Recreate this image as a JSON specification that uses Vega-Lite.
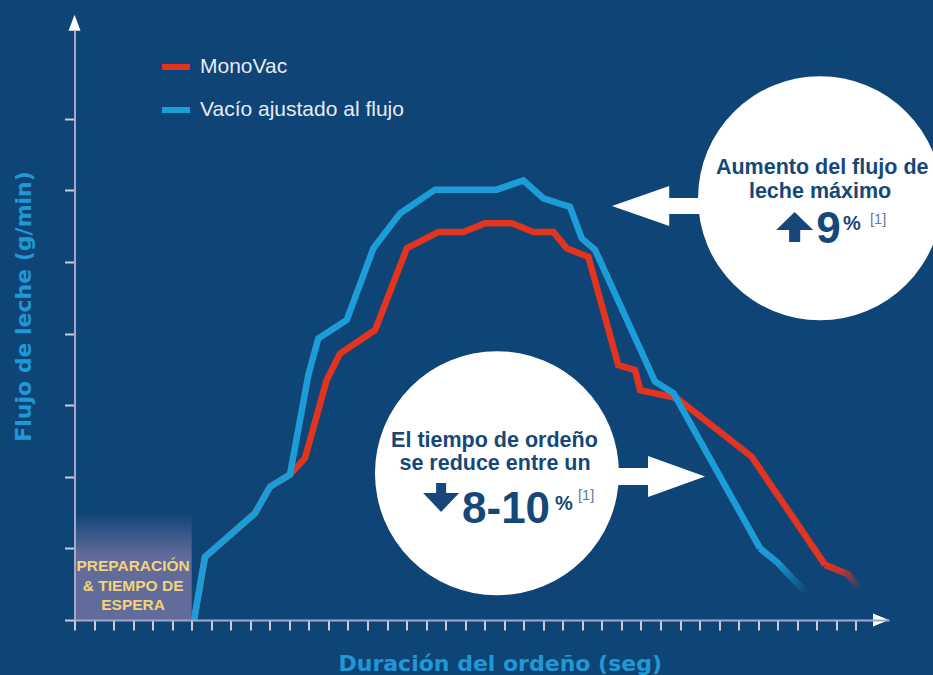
{
  "$schema": "https://vega.github.io/schema/vega-lite/v6.json",
  "width": 814.5,
  "height": 590,
  "autosize": {"type": "none"},
  "padding": {"left": 74.5, "top": 30, "right": 44, "bottom": 55},
  "background": "#0e4576",
  "config": {"view": {"stroke": null}, "font": "Liberation Sans"},
  "datasets": {
    "flujo": [
      {"serie": "MonoVac", "tiempo": 6.12, "flujo": 0, "tramo": "main"},
      {"serie": "MonoVac", "tiempo": 6.68, "flujo": 0.88, "tramo": "main"},
      {"serie": "MonoVac", "tiempo": 9.24, "flujo": 1.49, "tramo": "main"},
      {"serie": "MonoVac", "tiempo": 10.01, "flujo": 1.86, "tramo": "main"},
      {"serie": "MonoVac", "tiempo": 11.03, "flujo": 2.03, "tramo": "main"},
      {"serie": "MonoVac", "tiempo": 11.8, "flujo": 2.26, "tramo": "main"},
      {"serie": "MonoVac", "tiempo": 12.91, "flujo": 3.35, "tramo": "main"},
      {"serie": "MonoVac", "tiempo": 13.59, "flujo": 3.72, "tramo": "main"},
      {"serie": "MonoVac", "tiempo": 15.39, "flujo": 4.05, "tramo": "main"},
      {"serie": "MonoVac", "tiempo": 17.01, "flujo": 5.19, "tramo": "main"},
      {"serie": "MonoVac", "tiempo": 18.63, "flujo": 5.42, "tramo": "main"},
      {"serie": "MonoVac", "tiempo": 19.91, "flujo": 5.42, "tramo": "main"},
      {"serie": "MonoVac", "tiempo": 21.02, "flujo": 5.54, "tramo": "main"},
      {"serie": "MonoVac", "tiempo": 22.39, "flujo": 5.54, "tramo": "main"},
      {"serie": "MonoVac", "tiempo": 23.49, "flujo": 5.42, "tramo": "main"},
      {"serie": "MonoVac", "tiempo": 24.52, "flujo": 5.42, "tramo": "main"},
      {"serie": "MonoVac", "tiempo": 25.2, "flujo": 5.19, "tramo": "main"},
      {"serie": "MonoVac", "tiempo": 26.31, "flujo": 5.07, "tramo": "main"},
      {"serie": "MonoVac", "tiempo": 27.84, "flujo": 3.56, "tramo": "main"},
      {"serie": "MonoVac", "tiempo": 28.7, "flujo": 3.49, "tramo": "main"},
      {"serie": "MonoVac", "tiempo": 28.96, "flujo": 3.21, "tramo": "main"},
      {"serie": "MonoVac", "tiempo": 30.83, "flujo": 3.1, "tramo": "main"},
      {"serie": "MonoVac", "tiempo": 34.67, "flujo": 2.28, "tramo": "main"},
      {"serie": "MonoVac", "tiempo": 38.43, "flujo": 0.77, "tramo": "both"},
      {"serie": "MonoVac", "tiempo": 39.6, "flujo": 0.64, "tramo": "tail"},
      {"serie": "MonoVac", "tiempo": 40.2, "flujo": 0.43, "tramo": "tail"},
      {"serie": "Vacío ajustado al flujo", "tiempo": 6.12, "flujo": 0, "tramo": "main"},
      {"serie": "Vacío ajustado al flujo", "tiempo": 6.68, "flujo": 0.88, "tramo": "main"},
      {"serie": "Vacío ajustado al flujo", "tiempo": 9.24, "flujo": 1.49, "tramo": "main"},
      {"serie": "Vacío ajustado al flujo", "tiempo": 10.01, "flujo": 1.86, "tramo": "main"},
      {"serie": "Vacío ajustado al flujo", "tiempo": 11.03, "flujo": 2.03, "tramo": "main"},
      {"serie": "Vacío ajustado al flujo", "tiempo": 11.97, "flujo": 3.42, "tramo": "main"},
      {"serie": "Vacío ajustado al flujo", "tiempo": 12.48, "flujo": 3.93, "tramo": "main"},
      {"serie": "Vacío ajustado al flujo", "tiempo": 13.94, "flujo": 4.19, "tramo": "main"},
      {"serie": "Vacío ajustado al flujo", "tiempo": 15.3, "flujo": 5.19, "tramo": "main"},
      {"serie": "Vacío ajustado al flujo", "tiempo": 16.67, "flujo": 5.68, "tramo": "main"},
      {"serie": "Vacío ajustado al flujo", "tiempo": 18.46, "flujo": 6.01, "tramo": "main"},
      {"serie": "Vacío ajustado al flujo", "tiempo": 21.62, "flujo": 6.01, "tramo": "main"},
      {"serie": "Vacío ajustado al flujo", "tiempo": 22.98, "flujo": 6.14, "tramo": "main"},
      {"serie": "Vacío ajustado al flujo", "tiempo": 24.0, "flujo": 5.89, "tramo": "main"},
      {"serie": "Vacío ajustado al flujo", "tiempo": 25.37, "flujo": 5.77, "tramo": "main"},
      {"serie": "Vacío ajustado al flujo", "tiempo": 25.97, "flujo": 5.33, "tramo": "main"},
      {"serie": "Vacío ajustado al flujo", "tiempo": 26.65, "flujo": 5.17, "tramo": "main"},
      {"serie": "Vacío ajustado al flujo", "tiempo": 29.72, "flujo": 3.33, "tramo": "main"},
      {"serie": "Vacío ajustado al flujo", "tiempo": 30.66, "flujo": 3.17, "tramo": "main"},
      {"serie": "Vacío ajustado al flujo", "tiempo": 35.1, "flujo": 1.0, "tramo": "both"},
      {"serie": "Vacío ajustado al flujo", "tiempo": 36.0, "flujo": 0.8, "tramo": "tail"},
      {"serie": "Vacío ajustado al flujo", "tiempo": 37.45, "flujo": 0.38, "tramo": "tail"}
    ],
    "notas": [
      {"id": "caja", "tiempo": 0, "tiempo2": 6.0, "flujo": 0, "flujo2": 1.49},
      {"id": "prep", "tiempo": 3.0, "flujo": 0.684, "texto": "PREPARACIÓN"},
      {"id": "prep", "tiempo": 3.0, "flujo": 0.405, "texto": "& TIEMPO DE"},
      {"id": "prep", "tiempo": 3.0, "flujo": 0.14, "texto": "ESPERA"},
      {"id": "burbuja", "tiempo": 38.17, "flujo": 5.89},
      {"id": "burbuja", "tiempo": 21.63, "flujo": 2.05},
      {"id": "flechaIzq", "tiempo": 29.9, "flujo": 5.782},
      {"id": "flechaDer", "tiempo": 29.85, "flujo": 2.004},
      {"id": "sube", "tiempo": 36.87, "flujo": 5.489},
      {"id": "baja", "tiempo": 18.77, "flujo": 1.711},
      {"id": "flechaX", "tiempo": 41.29, "flujo": 0},
      {"id": "flechaY", "tiempo": 0.0, "flujo": 8.34},
      {"id": "cuerpo", "tiempo": 38.28, "flujo": 6.229, "texto": "Aumento del flujo de"},
      {"id": "cuerpo", "tiempo": 38.17, "flujo": 5.89, "texto": "leche máximo"},
      {"id": "cuerpo", "tiempo": 21.5, "flujo": 2.416, "texto": "El tiempo de ordeño"},
      {"id": "cuerpo", "tiempo": 21.53, "flujo": 2.095, "texto": "se reduce entre un"},
      {"id": "cifra", "tiempo": 37.97, "flujo": 5.265, "texto": "9"},
      {"id": "cifra", "tiempo": 19.84, "flujo": 1.355, "texto": "8-10"},
      {"id": "pct", "tiempo": 39.35, "flujo": 5.447, "texto": "%"},
      {"id": "pct", "tiempo": 24.6, "flujo": 1.536, "texto": "%"},
      {"id": "ref", "tiempo": 40.73, "flujo": 5.53, "texto": "[1]"},
      {"id": "ref", "tiempo": 25.78, "flujo": 1.676, "texto": "[1]"}
    ]
  },
  "encoding": {
    "x": {"field": "tiempo", "type": "quantitative", "scale": {"domain": [0, 41.7], "nice": false, "zero": false},
      "axis": {"title": "Duración del ordeño (seg)", "values": [0,1,2,3,4,5,6,7,8,9,10,11,12,13,14,15,16,17,18,19,20,21,22,23,24,25,26,27,28,29,30,31,32,33,34,35,36,37,38,39,40], "labels": false, "grid": false, "zindex": 1, "domainColor": "#a3a8c8", "domainWidth": 2, "tickColor": "#c8cce0", "tickWidth": 2, "tickSize": 10, "titleFont": "DejaVu Sans", "titleFontWeight": "bold", "titleFontSize": 22, "titleColor": "#1f98d5", "titleAlign": "left", "titleBaseline": "alphabetic", "titleX": 263.5, "titleY": 50}},
    "y": {"field": "flujo", "type": "quantitative", "scale": {"domain": [0, 8.24], "nice": false, "zero": false},
      "axis": {"title": "Flujo de leche (g/min)", "values": [0,1,2,3,4,5,6,7], "labels": false, "grid": false, "zindex": 1, "domainColor": "#a3a8c8", "domainWidth": 2, "tickColor": "#c8cce0", "tickWidth": 2, "tickSize": 10, "titleFont": "DejaVu Sans", "titleFontWeight": "bold", "titleFontSize": 22, "titleColor": "#1f98d5", "titleAlign": "center", "titleBaseline": "alphabetic", "titleAngle": -90, "titleX": -44, "titleY": 276}}
  },
  "layer": [
    {
      "data": {"name": "notas"},
      "transform": [{"filter": "datum.id == 'caja'"}],
      "mark": {"type": "rect", "fill": {"gradient": "linear", "x1": 0, "y1": 0, "x2": 0, "y2": 1, "stops": [{"offset": 0, "color": "rgba(98,108,155,0)"}, {"offset": 0.4, "color": "rgba(98,108,155,1)"}, {"offset": 1, "color": "rgba(98,108,155,1)"}]}},
      "encoding": {"x2": {"field": "tiempo2"}, "y2": {"field": "flujo2"}}
    },
    {
      "data": {"name": "notas"},
      "transform": [{"filter": "datum.id == 'prep'"}],
      "mark": {"type": "text", "font": "Liberation Sans", "fontWeight": "bold", "fontSize": 15.5, "color": "#f3d37a", "align": "center", "baseline": "alphabetic"},
      "encoding": {"text": {"field": "texto"}}
    },
    {
      "data": {"name": "flujo"},
      "transform": [{"filter": "datum.tramo != 'tail'"}],
      "mark": {"type": "line", "strokeWidth": 6.5, "strokeJoin": "miter"},
      "encoding": {
        "color": {"field": "serie", "type": "nominal",
          "scale": {"domain": ["MonoVac", "Vacío ajustado al flujo"], "range": ["#e2341f", "#1d9dd8"]},
          "legend": {"orient": "none", "legendX": 84.5, "legendY": 20, "title": null, "direction": "vertical", "symbolType": "stroke", "symbolSize": 784, "symbolStrokeWidth": 6, "symbolOpacity": 1, "labelFontSize": 21, "labelColor": "#e6eaf3", "labelFont": "Liberation Sans", "labelOffset": 7, "labelLimit": 0, "rowPadding": 14, "padding": 0}}
      }
    },
    {
      "data": {"name": "flujo"},
      "transform": [{"filter": "datum.serie == 'MonoVac' && datum.tramo != 'main'"}],
      "mark": {"type": "line", "strokeWidth": 6.5, "stroke": {"gradient": "linear", "x1": 0, "y1": 0, "x2": 1, "y2": 1, "stops": [{"offset": 0, "color": "rgba(226,52,31,1)"}, {"offset": 0.35, "color": "rgba(226,52,31,0.8)"}, {"offset": 1, "color": "rgba(226,52,31,0)"}]}}
    },
    {
      "data": {"name": "flujo"},
      "transform": [{"filter": "datum.serie == 'Vacío ajustado al flujo' && datum.tramo != 'main'"}],
      "mark": {"type": "line", "strokeWidth": 6.5, "stroke": {"gradient": "linear", "x1": 0, "y1": 0, "x2": 1, "y2": 1, "stops": [{"offset": 0, "color": "rgba(29,157,216,1)"}, {"offset": 0.35, "color": "rgba(29,157,216,0.9)"}, {"offset": 1, "color": "rgba(29,157,216,0)"}]}}
    },
    {
      "data": {"name": "notas"},
      "transform": [{"filter": "datum.id == 'burbuja'"}],
      "mark": {"type": "point", "shape": "circle", "filled": true, "color": "white", "opacity": 1, "size": 59536}
    },
    {
      "data": {"name": "notas"},
      "transform": [{"filter": "datum.id == 'flechaIzq'"}],
      "mark": {"type": "point", "shape": "M -1 0 L 0.23 -0.43 L 0.23 -0.17 L 1 -0.17 L 1 0.17 L 0.23 0.17 L 0.23 0.43 Z", "filled": true, "color": "white", "opacity": 1, "size": 8649}
    },
    {
      "data": {"name": "notas"},
      "transform": [{"filter": "datum.id == 'flechaDer'"}],
      "mark": {"type": "point", "shape": "M 1 0 L -0.2 -0.43 L -0.2 -0.18 L -1 -0.18 L -1 0.18 L -0.2 0.18 L -0.2 0.43 Z", "filled": true, "color": "white", "opacity": 1, "size": 9025}
    },
    {
      "data": {"name": "notas"},
      "transform": [{"filter": "datum.id == 'sube'"}],
      "mark": {"type": "point", "shape": "M 0 -0.81 L 1 0.16 L 0.3 0.16 L 0.3 0.81 L -0.3 0.81 L -0.3 0.16 L -1 0.16 Z", "filled": true, "color": "#154878", "opacity": 1, "size": 1369}
    },
    {
      "data": {"name": "notas"},
      "transform": [{"filter": "datum.id == 'baja'"}],
      "mark": {"type": "point", "shape": "M 0 0.8 L 1 -0.25 L 0.28 -0.25 L 0.28 -0.8 L -0.28 -0.8 L -0.28 -0.25 L -1 -0.25 Z", "filled": true, "color": "#154878", "opacity": 1, "size": 1296}
    },
    {
      "data": {"name": "notas"},
      "transform": [{"filter": "datum.id == 'flechaX'"}],
      "mark": {"type": "point", "shape": "M -1 -0.8 L 1 0 L -1 0.8 Z", "filled": true, "color": "white", "opacity": 1, "size": 256}
    },
    {
      "data": {"name": "notas"},
      "transform": [{"filter": "datum.id == 'flechaY'"}],
      "mark": {"type": "point", "shape": "M -0.75 1 L 0 -1 L 0.75 1 Z", "filled": true, "color": "white", "opacity": 1, "size": 256}
    },
    {
      "data": {"name": "notas"},
      "transform": [{"filter": "datum.id == 'cuerpo'"}],
      "mark": {"type": "text", "font": "Liberation Sans", "fontWeight": "bold", "fontSize": 21.5, "color": "#154878", "align": "center", "baseline": "alphabetic"},
      "encoding": {"text": {"field": "texto"}}
    },
    {
      "data": {"name": "notas"},
      "transform": [{"filter": "datum.id == 'cifra'"}],
      "mark": {"type": "text", "font": "Liberation Sans", "fontWeight": "bold", "fontSize": 44, "color": "#154878", "align": "left", "baseline": "alphabetic"},
      "encoding": {"text": {"field": "texto"}}
    },
    {
      "data": {"name": "notas"},
      "transform": [{"filter": "datum.id == 'pct'"}],
      "mark": {"type": "text", "font": "Liberation Sans", "fontWeight": "bold", "fontSize": 20, "color": "#154878", "align": "left", "baseline": "alphabetic"},
      "encoding": {"text": {"field": "texto"}}
    },
    {
      "data": {"name": "notas"},
      "transform": [{"filter": "datum.id == 'ref'"}],
      "mark": {"type": "text", "font": "Liberation Sans", "fontSize": 14.5, "color": "#5b78a6", "align": "left", "baseline": "alphabetic"},
      "encoding": {"text": {"field": "texto"}}
    }
  ]
}
